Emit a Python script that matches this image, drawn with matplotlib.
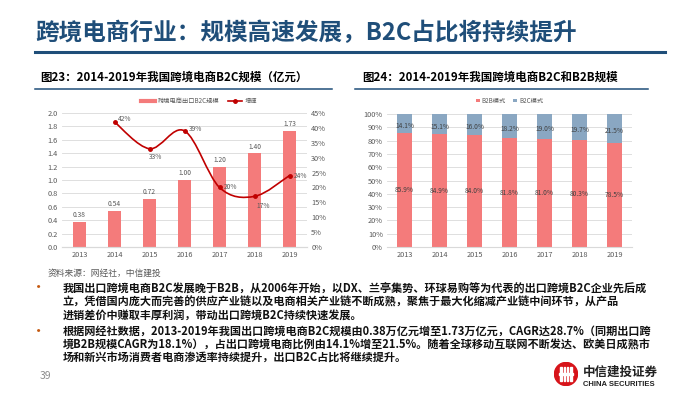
import matplotlib.pyplot as plt
from matplotlib.path import Path
from matplotlib.patches import PathPatch, Circle, Rectangle
from matplotlib.lines import Line2D
import numpy as np

plt.rcParams['font.family'] = ['Noto Sans CJK SC', 'DejaVu Sans']

years = ['2013', '2014', '2015', '2016', '2017', '2018', '2019']
b2c_scale = [0.38, 0.54, 0.72, 1.00, 1.20, 1.40, 1.73]
growth_years = ['2014', '2015', '2016', '2017', '2018', '2019']
growth = [42, 33, 39, 20, 17, 24]
b2b_share = [85.9, 84.9, 84.0, 81.8, 81.0, 80.3, 78.5]
b2c_share = [14.1, 15.1, 16.0, 18.2, 19.0, 19.7, 21.5]

title = '跨境电商行业：规模高速发展，B2C占比将持续提升'
title1 = '图23：2014-2019年我国跨境电商B2C规模（亿元）'
title2 = '图24：2014-2019年我国跨境电商B2C和B2B规模'
source = '资料来源：网经社，中信建投'
bullet1 = ['我国出口跨境电商B2C发展晚于B2B，从2006年开始，以DX、兰亭集势、环球易购等为代表的出口跨境B2C企业先后成',
           '立，凭借国内庞大而完善的供应产业链以及电商相关产业链不断成熟，聚焦于最大化缩减产业链中间环节，从产品',
           '进销差价中赚取丰厚利润，带动出口跨境B2C持续快速发展。']
bullet2 = ['根据网经社数据，2013-2019年我国出口跨境电商B2C规模由0.38万亿元增至1.73万亿元，CAGR达28.7%（同期出口跨',
           '境B2B规模CAGR为18.1%），占出口跨境电商比例由14.1%增至21.5%。随着全球移动互联网不断发达、欧美日成熟市',
           '场和新兴市场消费者电商渗透率持续提升，出口B2C占比将继续提升。']

W, H = 700, 394
fig = plt.figure(figsize=(7, 3.94), dpi=100)


def fx(x):
    return x / W


def fy(y):
    return 1 - y / H


def hline(x0, x1, y, lw, color):
    fig.add_artist(Line2D([fx(x0), fx(x1)], [fy(y), fy(y)], lw=lw, color=color,
                          transform=fig.transFigure))


def smooth_path(xs, ys):
    # catmull-rom -> bezier, just for drawing the smoothed line
    verts = [(xs[0], ys[0])]
    codes = [Path.MOVETO]
    n = len(xs)
    for i in range(n - 1):
        a = i - 1 if i > 0 else i
        d = i + 2 if i + 2 < n else i + 1
        c1 = (xs[i] + (xs[i + 1] - xs[a]) / 6, ys[i] + (ys[i + 1] - ys[a]) / 6)
        c2 = (xs[i + 1] - (xs[d] - xs[i]) / 6, ys[i + 1] - (ys[d] - ys[i]) / 6)
        verts += [c1, c2, (xs[i + 1], ys[i + 1])]
        codes += [Path.CURVE4] * 3
    return Path(verts, codes)


navy = '#1F4E79'
gray = '#595959'
grid = '#D9D9D9'
salmon = '#F47B7B'
steel = '#8AA7C2'
red = '#C00000'

# page title
fig.text(fx(35), fy(33), title, fontsize=17, fontweight='bold', color=navy, va='center')
hline(35, 665, 52, 2.2, navy)

# chart titles
fig.text(fx(40), fy(77), title1, fontsize=8.3, fontweight='bold', va='center')
fig.text(fx(362), fy(77), title2, fontsize=8.3, fontweight='bold', va='center')
hline(35, 332, 89, 1.1, navy)
hline(355, 648, 89, 1.1, navy)

# chart 1
ax1 = fig.add_axes([fx(62), fy(247), 245 / W, 134 / H])
x = np.arange(len(years))
ax1.bar(x, b2c_scale, width=0.36, color=salmon, zorder=2)
for xi, v in zip(x, b2c_scale):
    ax1.text(xi, v + 0.04, f'{v:.2f}', ha='center', va='bottom', fontsize=4.8, color=gray)
ax1.set_xlim(-0.5, 6.5)
ax1.set_ylim(0, 2.0)
ax1.set_yticks(np.arange(0, 2.01, 0.2))
ax1.set_yticklabels([f'{v:.1f}' for v in np.arange(0, 2.01, 0.2)])
ax1.set_xticks(x)
ax1.set_xticklabels(years)
ax1.grid(axis='y', color=grid, lw=0.6, zorder=0)
ax1.set_axisbelow(True)

ax2 = ax1.twinx()
gx = [years.index(g) for g in growth_years]
ax2.set_ylim(0, 45)
ax2.set_yticks(range(0, 46, 5))
ax2.set_yticklabels([f'{v}%' for v in range(0, 46, 5)])
ax2.add_patch(PathPatch(smooth_path(gx, growth), fc='none', ec=red, lw=1.2, zorder=3))
ax2.plot(gx, growth, 'o', color=red, ms=2.5, zorder=4)
offs = [(7, 2), (4, -6), (8, 1), (8, 0), (6, -7), (8, 0)]
for xi, v, (dx, dy) in zip(gx, growth, offs):
    ax2.annotate(f'{v}%', (xi, v), xytext=(dx, dy), textcoords='offset points',
                 ha='center', va='center', fontsize=4.8, color=gray)

for a in (ax1, ax2):
    for s in ('top', 'left', 'right'):
        a.spines[s].set_visible(False)
    a.spines['bottom'].set_color(grid)
    a.tick_params(length=0, labelsize=5.3, labelcolor=gray, pad=3)

h1 = Line2D([], [], color=salmon, lw=3)
h2 = Line2D([], [], color=red, marker='o', ms=2.5, lw=1.2)
ax1.legend([h1, h2], ['跨境电商出口B2C规模', '增速'], loc='center', bbox_to_anchor=(0.56, 1.09),
           ncol=2, frameon=False, fontsize=4.5, labelcolor=gray, handlelength=2.2,
           columnspacing=1.5, handletextpad=0.4)

# chart 2
ax3 = fig.add_axes([fx(387), fy(247), 245 / W, 133 / H])
ax3.bar(x, b2b_share, width=0.43, color=salmon, label='B2B模式', zorder=2)
ax3.bar(x, b2c_share, width=0.43, bottom=b2b_share, color=steel, label='B2C模式', zorder=2)
for xi, a, b in zip(x, b2b_share, b2c_share):
    ax3.text(xi, a / 2, f'{a:.1f}%', ha='center', va='center', fontsize=4.8, color='#404040')
    ax3.text(xi, a + b / 2 - 2, f'{b:.1f}%', ha='center', va='center', fontsize=4.8, color='#404040')
ax3.set_xlim(-0.5, 6.5)
ax3.set_ylim(0, 100)
ax3.set_yticks(range(0, 101, 10))
ax3.set_yticklabels([f'{v}%' for v in range(0, 101, 10)])
ax3.set_xticks(x)
ax3.set_xticklabels(years)
ax3.grid(axis='y', color=grid, lw=0.6, zorder=0)
ax3.set_axisbelow(True)
for s in ('top', 'left', 'right'):
    ax3.spines[s].set_visible(False)
ax3.spines['bottom'].set_color(grid)
ax3.tick_params(length=0, labelsize=5.3, labelcolor=gray, pad=3)
ax3.legend(loc='center', bbox_to_anchor=(0.5, 1.1), ncol=2, frameon=False, fontsize=4.5,
           labelcolor=gray, handlelength=0.6, handleheight=0.6, columnspacing=1.2,
           handletextpad=0.3)

# source + bullets
fig.text(fx(48), fy(273), source, fontsize=6.3, color=gray, va='center')
for yc, yb, lines in ((302, 287, bullet1), (344.5, 331, bullet2)):
    fig.text(fx(39), fy(yb), '•', fontsize=11, color='#C55A11', ha='center', va='center')
    fig.text(fx(63), fy(yc), '\n'.join(lines), fontsize=8.0, fontweight='bold',
             color='#111111', va='center', linespacing=1.0)

fig.text(fx(40), fy(376), '39', fontsize=7.5, color='#8C8C8C', va='center')

# logo
axl = fig.add_axes([fx(554), fy(386), 24 / W, 24 / H])
axl.set_xlim(0, 1)
axl.set_ylim(0, 1)
axl.axis('off')
axl.add_patch(Circle((0.5, 0.5), 0.48, color='#D7141A'))
for xx in (0.3, 0.43, 0.57, 0.7):
    axl.add_patch(Rectangle((xx - 0.03, 0.2), 0.06, 0.6, color='white'))
axl.add_patch(Rectangle((0.22, 0.47), 0.56, 0.06, color='white'))
fig.text(fx(583), fy(372.5), '中信建投证券', fontsize=9, fontweight='bold', color='#222222', va='center')
fig.text(fx(583), fy(385), 'CHINA SECURITIES', fontsize=5.5, fontweight='bold', color='#222222',
         va='center', family=['Liberation Sans', 'DejaVu Sans'])

fig.savefig('out.png', dpi=100, facecolor='white')
